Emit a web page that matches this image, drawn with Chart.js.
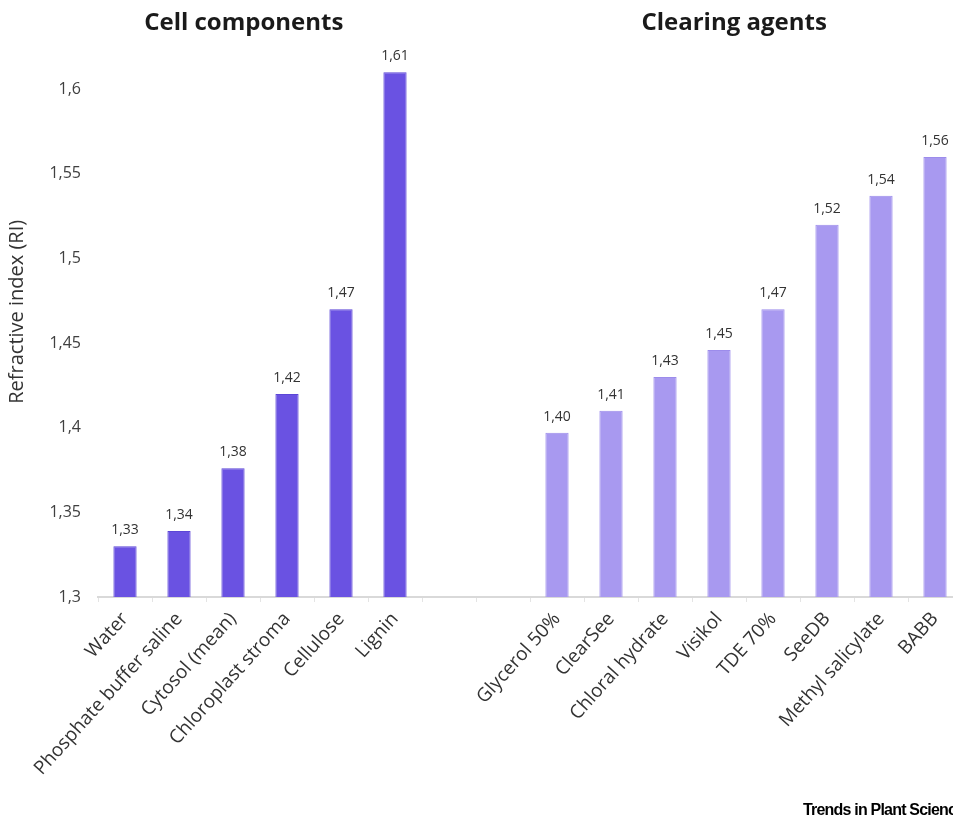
<!DOCTYPE html>
<html>
<head>
<meta charset="utf-8">
<script src="https://cdn.jsdelivr.net/npm/chart.js@4.4.1/dist/chart.umd.min.js"></script>
<style>
  html, body { margin: 0; padding: 0; background: #fff; overflow: hidden; width: 953px; height: 820px; }
  #wrap { position: absolute; left: 0; top: 0; width: 975px; height: 820px; }
  #credit { position: absolute; left: 803px; top: 801px; font-family: "Liberation Sans", Arial, sans-serif; font-weight: bold; font-size: 16px; letter-spacing: -0.8px; color: #000; white-space: nowrap; }
</style>
</head>
<body>
<div id="wrap"><canvas id="c" width="975" height="820"></canvas></div>
<div id="credit">Trends in Plant Science</div>
<script>
// ---- data ----
const cellCategories = ["Water", "Phosphate buffer saline", "Cytosol (mean)", "Chloroplast stroma", "Cellulose", "Lignin"];
const clearingCategories = ["Glycerol 50%", "ClearSee", "Chloral hydrate", "Visikol", "TDE 70%", "SeeDB", "Methyl salicylate", "BABB"];
const cellValues = [1.33, 1.339, 1.376, 1.42, 1.47, 1.61];
const clearingValues = [1.397, 1.41, 1.43, 1.446, 1.47, 1.52, 1.537, 1.56];
const gapCategories = ["", ""];
const yTickValues = [1.3, 1.35, 1.4, 1.45, 1.5, 1.55, 1.6];
const groupTitles = ["Cell components", "Clearing agents"];
const yAxisTitle = "Refractive index (RI)";

// ---- build ----
const labels = [...cellCategories, ...gapCategories, ...clearingCategories];
const cellData = [...cellValues, ...gapCategories.map(() => null), ...clearingCategories.map(() => null)];
const clearData = [...cellCategories.map(() => null), ...gapCategories.map(() => null), ...clearingValues];

const FONT = '"Open Sans", sans-serif';

const valueLabels = {
  id: 'valueLabels',
  afterDatasetsDraw(chart) {
    const ctx = chart.ctx;
    ctx.save();
    ctx.font = '14px ' + FONT;
    ctx.fillStyle = '#333333';
    ctx.textAlign = 'center';
    ctx.textBaseline = 'bottom';
    chart.data.datasets.forEach((ds, di) => {
      const meta = chart.getDatasetMeta(di);
      meta.data.forEach((bar, i) => {
        const v = ds.data[i];
        if (v === null || v === undefined) return;
        ctx.fillText(v.toFixed(2).replace('.', ','), bar.x, bar.y - 9);
      });
    });
    ctx.restore();
  }
};

const groupTitlePlugin = {
  id: 'groupTitles',
  afterDraw(chart, args, opts) {
    const ctx = chart.ctx;
    ctx.save();
    ctx.font = 'bold 24px ' + FONT;
    ctx.fillStyle = '#1a1a1a';
    ctx.textAlign = 'center';
    ctx.textBaseline = 'middle';
    const xs = chart.scales.x;
    ctx.fillText(groupTitles[0], xs.getPixelForValue(opts.pos[0]), opts.y);
    ctx.fillText(groupTitles[1], xs.getPixelForValue(opts.pos[1]), opts.y);
    ctx.restore();
  }
};

new Chart(document.getElementById('c'), {
  type: 'bar',
  data: {
    labels: labels,
    datasets: [
      { data: cellData, backgroundColor: '#6a52e2', borderColor: '#5c46d6', borderWidth: 1 },
      { data: clearData, backgroundColor: '#a899f0', borderColor: '#9c8ceb', borderWidth: 1 }
    ]
  },
  options: {
    responsive: false,
    animation: false,
    layout: { padding: { left: 0, right: 13, top: 5, bottom: 0 } },
    datasets: { bar: { grouped: false, categoryPercentage: 1, barPercentage: 0.43 } },
    plugins: {
      legend: { display: false },
      tooltip: { enabled: false },
      groupTitles: { pos: [2.2, 11.28], y: 23 }
    },
    scales: {
      x: {
        grid: { display: true, drawOnChartArea: false, drawTicks: true, tickLength: 5, color: '#e4e4e4' },
        border: { display: true, color: '#d9d9d9', width: 2 },
        ticks: {
          autoSkip: false, maxRotation: 48, minRotation: 48, padding: 6,
          color: '#333333', font: { family: FONT, size: 19 }
        },
        afterFit(s) { s.height = 223; }
      },
      y: {
        min: 1.3, max: 1.637,
        afterBuildTicks(s) { s.ticks = yTickValues.map(v => ({ value: v })); },
        grid: { display: false, drawTicks: false },
        border: { display: false },
        ticks: {
          padding: 17, color: '#404040', font: { family: FONT, size: 16 },
          callback: (v) => String(Math.round(v * 100) / 100).replace('.', ',')
        },
        title: { display: true, text: yAxisTitle, color: '#333333', font: { family: FONT, size: 20 }, padding: { top: 5, bottom: 0 } },
        afterFit(s) { s.width = 98; }
      }
    }
  },
  plugins: [valueLabels, groupTitlePlugin]
});
</script>
</body>
</html>
